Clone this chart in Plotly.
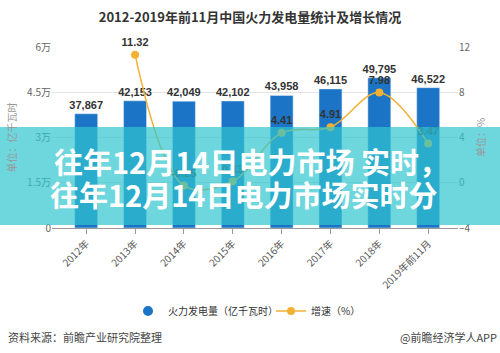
import plotly.graph_objects as go

categories = ["2012年", "2013年", "2014年", "2015年", "2016年", "2017年", "2018年", "2019年前11月"]
power = [37867, 42153, 42049, 42102, 43958, 46115, 49795, 46522]
growth = [None, 11.32, -0.25, 0.13, 4.41, 4.91, 7.98, 3.47]
left_tickvals = [0, 15000, 30000, 45000, 60000]
left_ticktext = ["0", "1.5万", "3万", "4.5万", "6万"]
right_tickvals = [-4, 0, 4, 8, 12]

FONT = "Noto Sans CJK SC"
BLUE = "#1b74c5"
ORANGE = "#f2b134"

W, H = 500, 353
L, R, T, B = 52, 42, 47, 125
pw = W - L - R
ph = H - T - B

def px(x):
    return (x - L) / pw

def py(y):
    return (H - B - y) / ph

fig = go.Figure()
fig.add_trace(go.Bar(
    x=categories, y=power, marker_color=BLUE, width=0.47,
    texttemplate="<b>%{y:,}</b>", textposition="outside", cliponaxis=False,
    constraintext="none",
    textfont=dict(size=11, color="#333", family="Liberation Sans"),
    showlegend=False, name="火力发电量（亿千瓦时）",
))
fig.add_trace(go.Scatter(
    x=[None], y=[None], mode="markers", name="火力发电量（亿千瓦时）",
    marker=dict(color=BLUE, size=10, symbol="circle"), legend="legend",
))
fig.add_trace(go.Scatter(
    x=categories, y=growth, yaxis="y2", name="增速（%）",
    mode="lines+markers+text", line=dict(color=ORANGE, width=1.5, shape="spline"),
    marker=dict(color=ORANGE, size=8),
    text=[("" if v is None else f"<b>{v:.2f}</b>") for v in growth],
    textposition="top center", cliponaxis=False,
    textfont=dict(size=11, color="#333", family="Liberation Sans"),
    legend="legend2",
))

fig.update_layout(
    width=W, height=H, margin=dict(l=L, r=R, t=T, b=B),
    paper_bgcolor="white", plot_bgcolor="white",
    font=dict(family=FONT, size=10, color="#666"),
    title=dict(text="<b>2012-2019年前11月中国火力发电量统计及增长情况</b>",
               x=0.5, xanchor="center", y=1 - 17 / H, yanchor="middle",
               font=dict(size=13, color="#333", family=FONT)),
    xaxis=dict(range=[-0.7, 7.61], tickangle=-45, showgrid=False,
               showline=True, linecolor="#999", linewidth=1,
               ticks="outside", ticklen=5, tickcolor="#999",
               tickfont=dict(size=10, color="#555")),
    yaxis=dict(range=[0, 60000], tickvals=left_tickvals, ticktext=left_ticktext,
               showgrid=True, gridcolor="#e3e3e3", zeroline=False,
               tickfont=dict(size=10, color="#666"),
               title=dict(text="单位：亿千瓦时", font=dict(size=10, color="#999"), standoff=8)),
    yaxis2=dict(range=[-4, 12], tickvals=right_tickvals, overlaying="y", side="right",
                showgrid=False, zeroline=False,
                tickfont=dict(size=10, color="#666"),
                title=dict(text="单位：%", font=dict(size=10, color="#999"), standoff=8)),
    legend=dict(orientation="h", x=px(128), xanchor="left", y=py(311), yanchor="middle",
                font=dict(size=10, color="#333"), itemwidth=30, bgcolor="rgba(0,0,0,0)"),
    legend2=dict(orientation="h", x=px(271), xanchor="left", y=py(311), yanchor="middle",
                 font=dict(size=10, color="#333"), itemwidth=30, bgcolor="rgba(0,0,0,0)"),
    bargap=0.5,
)

fig.add_shape(type="rect", xref="paper", yref="paper",
              x0=px(-5), x1=px(505), y0=py(225), y1=py(127),
              fillcolor="rgba(49,196,206,0.7)", line=dict(width=0), layer="above")

fig.add_annotation(text="<b>往年12月14日电力市场 实时，</b>", xref="paper", yref="paper",
                   x=px(52), y=py(161), xanchor="left", yanchor="middle", showarrow=False,
                   font=dict(size=29, color="white", family=FONT))
fig.add_annotation(text="<b>往年12月14日电力市场实时分</b>", xref="paper", yref="paper",
                   x=px(48), y=py(194), xanchor="left", yanchor="middle", showarrow=False,
                   font=dict(size=29, color="white", family=FONT))
fig.add_annotation(text="资料来源：前瞻产业研究院整理", xref="paper", yref="paper",
                   x=px(6), y=py(337), xanchor="left", yanchor="middle", showarrow=False,
                   font=dict(size=11, color="#444", family=FONT))
fig.add_annotation(text="@前瞻经济学人APP", xref="paper", yref="paper",
                   x=px(499), y=py(337), xanchor="right", yanchor="middle", showarrow=False,
                   font=dict(size=11, color="#444", family=FONT))

fig.write_html("out.html")
